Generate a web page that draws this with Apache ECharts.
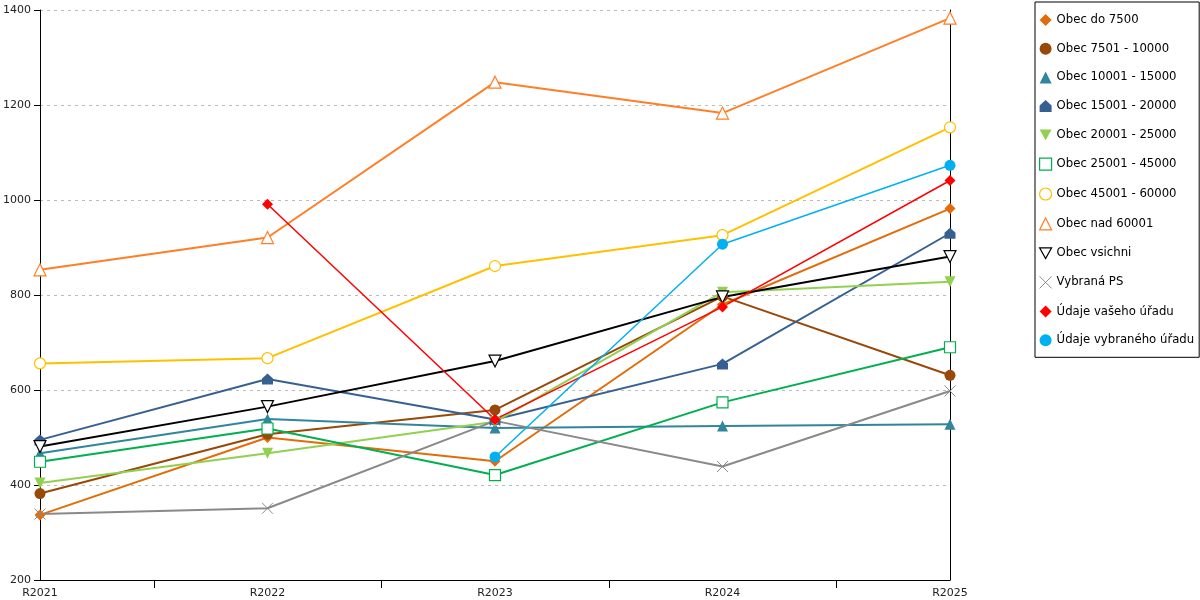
<!DOCTYPE html>
<html>
<head>
    <title>ECharts</title>
    <meta charset="utf-8">
    <style>
        html, body { margin: 0; padding: 0; background: #fff; }
        #main { width: 1200px; height: 600px; }
    </style>
</head>
<body>
    <div id="main"></div>
    <script type="text/javascript" src="https://cdn.jsdelivr.net/npm/echarts@6/dist/echarts.min.js"></script>
    <script type="text/javascript">
    // kategorie a hodnoty
    var years = ['R2021', 'R2022', 'R2023', 'R2024', 'R2025'];
    var yTicks = [200, 400, 600, 800, 1000, 1200, 1400];

    var obecDo7500 = [337, 500, 450, 780, 982];
    var obec7501 = [382, 507, 558, 797, 631];
    var obec10001 = [467, 539, 520, 524, 528];
    var obec15001 = [495, 623, 538, 655, 930];
    var obec20001 = [404, 467, 533, 806, 828];
    var obec25001 = [449, 519, 421, 574, 690];
    var obec45001 = [656, 667, 861, 926, 1153];
    var obecNad60001 = [853, 921, 1248, 1183, 1383];
    var obecVsichni = [481, 565, 661, 796, 881];
    var vybranaPS = [339, 351, 535, 439, 598];
    var vasUrad = [null, 991, 538, 775, 1041];
    var vybranyUrad = [null, null, 459, 907, 1073];

    var chart = echarts.init(document.getElementById('main'));

    var house = 'path://M5,0 L10,4.5 L10,10 L0,10 L0,4.5 Z';
    var downTri = 'path://M0,0 L10,0 L5,9 Z';
    var cross = 'path://M0,0 L10,10 M10,0 L0,10';

    var legendItems = [];

    function line(name, data, color, symbol, size, extra) {
        var s = {
            name: name,
            type: 'line',
            data: data,
            symbol: symbol,
            symbolSize: size,
            showAllSymbol: true,
            lineStyle: { color: color, width: 2 },
            itemStyle: { color: color },
            emphasis: { disabled: true }
        };
        if (extra) {
            for (var k in extra) s[k] = extra[k];
        }
        legendItems.push({ name: name, icon: symbol, itemStyle: s.itemStyle });
        return s;
    }

    var series = [
        line('Obec do 7500', obecDo7500, '#E36C09', 'diamond', 11),
        line('Obec 7501 - 10000', obec7501, '#984807', 'circle', 11),
        line('Obec 10001 - 15000', obec10001, '#31859C', 'triangle', 11),
        line('Obec 15001 - 20000', obec15001, '#376092', house, 11),
        line('Obec 20001 - 25000', obec20001, '#92D050', downTri, 11),
        line('Obec 25001 - 45000', obec25001, '#00B050', 'rect', 11, {
            itemStyle: { color: '#fff', borderColor: '#00B050', borderWidth: 1.2 }
        }),
        line('Obec 45001 - 60000', obec45001, '#FFC000', 'circle', 11, {
            itemStyle: { color: '#fff', borderColor: '#FFC000', borderWidth: 1.2 }
        }),
        line('Obec nad 60001', obecNad60001, '#FF7F27', 'triangle', 12, {
            itemStyle: { color: '#fff', borderColor: '#FF7F27', borderWidth: 1.2 }
        }),
        line('Obec vsichni', obecVsichni, '#000', downTri, 12, {
            itemStyle: { color: '#fff', borderColor: '#000', borderWidth: 1.2 }
        }),
        line('Vybraná PS', vybranaPS, '#898989', cross, 11, {
            itemStyle: { color: 'transparent', borderColor: '#898989', borderWidth: 1 }
        }),
        line('Údaje vašeho úřadu', vasUrad, '#FF0000', 'diamond', 11, {
            lineStyle: { color: '#FF0000', width: 1.5 }
        }),
        line('Údaje vybraného úřadu', vybranyUrad, '#00B0F0', 'circle', 11, {
            lineStyle: { color: '#00B0F0', width: 1.5 }
        })
    ];

    var option = {
        animation: false,
        textStyle: { fontFamily: 'DejaVu Sans' },
        grid: { left: 40, right: 250, top: 10, bottom: 20, outerBoundsMode: 'none' },
        legend: {
            orient: 'vertical',
            left: 1035,
            top: 2,
            width: 162,
            padding: [12, 5, 11, 4],
            itemGap: 16.7,
            itemWidth: 12,
            itemHeight: 12,
            borderColor: '#000',
            borderWidth: 1,
            textStyle: { fontSize: 11.7, color: '#000', fontFamily: 'DejaVu Sans' },
            data: legendItems
        },
        xAxis: [
            {
                type: 'category',
                data: years,
                boundaryGap: false,
                axisLine: { lineStyle: { color: '#000', width: 1 } },
                axisTick: { show: false },
                axisLabel: { color: '#222', fontSize: 11, margin: 8 },
                splitLine: { show: false }
            },
            {
                // jen čárky mezi roky
                type: 'category',
                data: ['', '', '', ''],
                boundaryGap: true,
                position: 'bottom',
                axisLine: { show: false },
                axisTick: { show: true, alignWithLabel: true, length: 8, lineStyle: { color: '#000' } },
                axisLabel: { show: false },
                splitLine: { show: false }
            }
        ],
        yAxis: [
            {
                type: 'value',
                min: yTicks[0],
                max: yTicks[yTicks.length - 1],
                interval: 200,
                axisLine: { show: true, lineStyle: { color: '#000' } },
                axisTick: { show: true, length: 6, lineStyle: { color: '#000' } },
                axisLabel: { color: '#222', fontSize: 11, margin: 9, formatter: function (v) { return String(v); } },
                splitLine: { show: true, lineStyle: { color: '#bbb', type: [3, 4] } }
            },
            {
                type: 'value',
                position: 'right',
                min: yTicks[0],
                max: yTicks[yTicks.length - 1],
                interval: 200,
                axisLine: { show: true, lineStyle: { color: '#000' } },
                axisTick: { show: false },
                axisLabel: { show: false },
                splitLine: { show: false }
            }
        ],
        series: series
    };

    chart.setOption(option);
    </script>
</body>
</html>
